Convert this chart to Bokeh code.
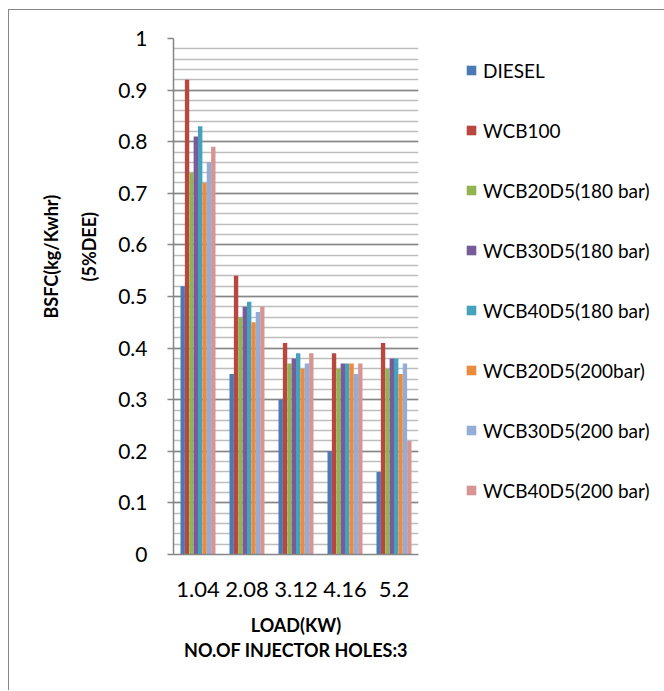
from bokeh.plotting import figure
from bokeh.models import (FactorRange, Range1d, Legend, LegendItem, Title,
                          SingleIntervalTicker, NumeralTickFormatter)
from bokeh.transform import dodge
from bokeh.embed import file_html
from bokeh.resources import INLINE

# Engine load (kW) categories
loads = ["1.04", "2.08", "3.12", "4.16", "5.2"]

# BSFC (kg/kWhr) per fuel blend, one value per load
diesel = [0.52, 0.35, 0.30, 0.20, 0.16]
wcb100 = [0.92, 0.54, 0.41, 0.39, 0.41]
wcb20d5_180 = [0.74, 0.46, 0.37, 0.36, 0.36]
wcb30d5_180 = [0.81, 0.48, 0.38, 0.37, 0.38]
wcb40d5_180 = [0.83, 0.49, 0.39, 0.37, 0.38]
wcb20d5_200 = [0.72, 0.45, 0.36, 0.37, 0.35]
wcb30d5_200 = [0.76, 0.47, 0.37, 0.35, 0.37]
wcb40d5_200 = [0.79, 0.48, 0.39, 0.37, 0.22]

series_names = ["DIESEL", "WCB100", "WCB20D5(180 bar)", "WCB30D5(180 bar)",
                "WCB40D5(180 bar)", "WCB20D5(200bar)", "WCB30D5(200 bar)",
                "WCB40D5(200 bar)"]
series_values = [diesel, wcb100, wcb20d5_180, wcb30d5_180, wcb40d5_180,
                 wcb20d5_200, wcb30d5_200, wcb40d5_200]
colors = ["#4A7AB4", "#B9473F", "#93B353", "#775C99", "#45A2BD",
          "#EC8B3D", "#93ADD6", "#D69593"]

FONT = "Lato"
GRAY = "#868686"

p = figure(x_range=FactorRange(*loads), y_range=Range1d(0, 1),
           frame_width=245, frame_height=516,
           min_border_left=164, min_border_right=243,
           min_border_top=28, min_border_bottom=136,
           output_backend="svg", toolbar_location=None, tools="")
p.margin = (9, 0, 0, 8)
p.styles = {"border-left": "1.5px solid #868686",
            "border-top": "1.5px solid #868686",
            "border-right": "none", "border-bottom": "none"}
p.outline_line_color = None
p.background_fill_color = "white"
p.border_fill_color = "white"

# Clustered bars: 8 series side by side inside each load category
n = len(series_names)
bar_w = (1 / 1.4) / n
data = {"load": loads}
for name, vals in zip(series_names, series_values):
    data[name] = vals

items = []
for i, (name, color) in enumerate(zip(series_names, colors)):
    off = (i - (n - 1) / 2) * bar_w
    r = p.vbar(x=dodge("load", off, range=p.x_range), top=name, width=bar_w,
               source=data, fill_color=color, line_color=None)
    items.append(LegendItem(label=name, renderers=[r]))

# Y axis with major lines every 0.1 and minor lines every 0.02
ticker = SingleIntervalTicker(interval=0.1, num_minor_ticks=5)
p.yaxis.ticker = ticker
p.ygrid.ticker = ticker
p.yaxis.formatter = NumeralTickFormatter(format="0.[0]")
p.ygrid.grid_line_color = GRAY
p.ygrid.grid_line_width = 1.5
p.ygrid.minor_grid_line_color = "#BDBDBD"
p.ygrid.minor_grid_line_width = 1.5
p.xgrid.grid_line_color = None

for ax in (p.xaxis[0], p.yaxis[0]):
    ax.axis_line_color = GRAY
    ax.axis_line_width = 1.5
    ax.major_label_text_font = FONT
    ax.major_label_text_color = "black"
    ax.minor_tick_line_color = None
    ax.major_tick_in = 0

p.yaxis.major_label_text_font_size = "21px"
p.xaxis.major_label_text_font_size = "22px"
p.yaxis.major_tick_out = 6
p.yaxis.major_tick_line_color = GRAY
p.yaxis.major_tick_line_width = 1.5
p.yaxis.major_label_standoff = 20
p.xaxis.major_tick_out = 0
p.xaxis.major_tick_line_color = None
p.xaxis.major_label_standoff = 27

# X axis title, two centred lines
p.xaxis.axis_label = "LOAD(KW)\nNO.OF INJECTOR HOLES:3"
p.xaxis.axis_label_text_font = FONT
p.xaxis.axis_label_text_font_style = "bold"
p.xaxis.axis_label_text_font_size = "18px"
p.xaxis.axis_label_text_color = "black"
p.xaxis.axis_label_text_line_height = 1.15
p.xaxis.axis_label_standoff = 14

# Y axis title, two rotated lines stacked left of the axis
title_style = dict(text_font=FONT, text_font_style="bold",
                   text_font_size="18px", text_color="black", align="left")
p.add_layout(Title(text="(5%DEE)", offset=273, standoff=30,
                   vertical_align="middle", **title_style), "left")
p.add_layout(Title(text="BSFC(kg/Kwhr)", offset=236, standoff=0,
                   vertical_align="bottom", **title_style), "left")

legend = Legend(items=items, location=(47, 52),
                label_text_font=FONT, label_text_font_size="19px",
                label_text_color="black",
                glyph_width=12, glyph_height=12, label_height=24,
                label_standoff=6, spacing=36, padding=10, margin=0,
                border_line_color=None, background_fill_alpha=0)
p.add_layout(legend, "right")

open("out.html", "w").write(file_html(p, INLINE))
